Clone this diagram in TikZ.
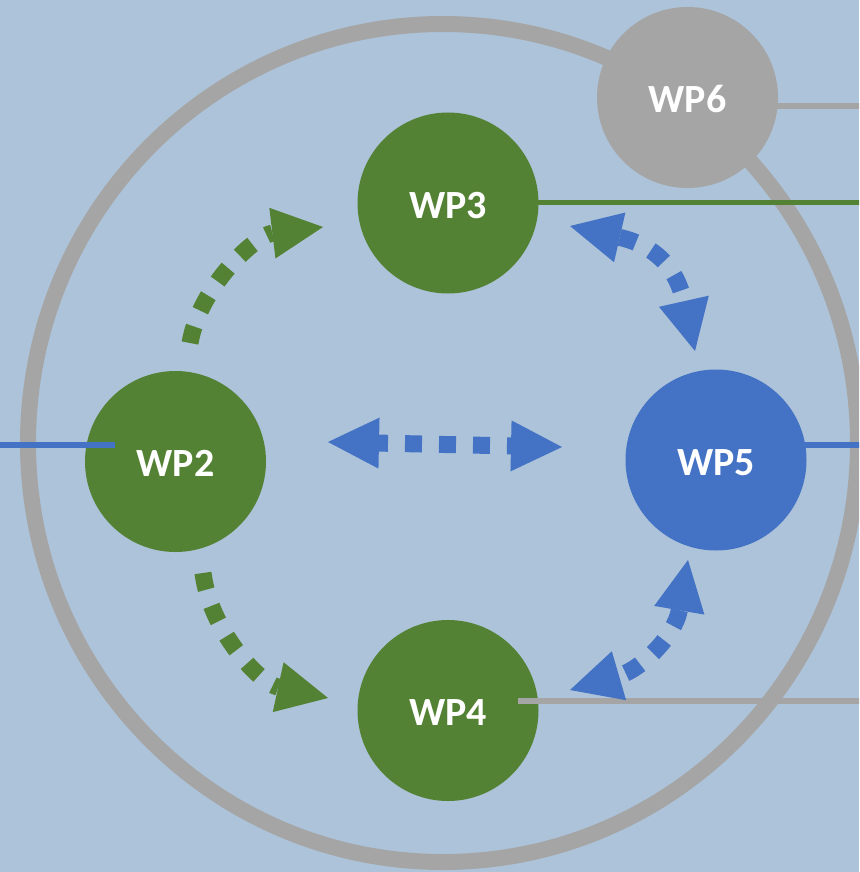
\documentclass[tikz,border=0pt]{standalone}
\usepackage{fontspec}
\setmainfont{Carlito}
\usetikzlibrary{arrows.meta}
\definecolor{bg}{RGB}{173,195,217}
\definecolor{wpgreen}{RGB}{84,130,53}
\definecolor{wpblue}{RGB}{68,114,196}
\definecolor{wpgray}{RGB}{165,165,165}
\begin{document}
\begin{tikzpicture}[x=1pt,y=-1pt,
  wp/.style={circle,minimum size=181pt,inner sep=0pt,text=white,
    text height=30pt,text depth=0pt,
    font=\bfseries\fontsize{40}{48}\selectfont},
  link/.style={line width=6pt},
  flow/.style={line width=17pt,dash pattern=on 17pt off 17pt,line cap=butt},
  >={Triangle[length=51pt,width=51pt,line width=0pt]}]
\useasboundingbox (0,0) rectangle (859,872);
\clip (0,0) rectangle (859,872);
\fill[bg] (0,0) rectangle (859,872);
% outer ring
\draw[wpgray,line width=16pt] (443,443) ellipse [x radius=415pt, y radius=419pt];
% end points of outgoing lines
\coordinate (e6) at (862,106);
\coordinate (e3) at (862,202.5);
\coordinate (e5) at (862,445);
\coordinate (e2a) at (-3,445);
\coordinate (e2b) at (115,445);
\coordinate (e4a) at (518,701);
\coordinate (e4b) at (862,701);
\coordinate (c6) at (687.5,106);
\coordinate (c3) at (448,202.5);
\coordinate (c5) at (716,445);
\draw[link,wpgray]  (c6) -- (e6);
\draw[link,wpgreen,line width=5pt] (c3) -- (e3);
\draw[link,wpblue]  (c5) -- (e5);
% work packages
\node[wp,fill=wpgray]  (wp6) at (687.5,97.5) {WP6};
\node[wp,fill=wpgreen] (wp3) at (448,203) {WP3};
\node[wp,fill=wpgreen] (wp2) at (175.5,461.5) {WP2};
\node[wp,fill=wpblue]  (wp5) at (716,460) {WP5};
\node[wp,fill=wpgreen] (wp4) at (448,710.5) {WP4};
\draw[link,wpblue]  (e2a) -- (e2b);
\draw[link,wpgray]  (e4a) -- (e4b);
% flows
\coordinate (a1s) at (190,343);  \coordinate (a1e) at (323,227);
\coordinate (a2s) at (203,573);  \coordinate (a2e) at (328,698);
\coordinate (a3s) at (570,226);  \coordinate (a3e) at (695,351);
\coordinate (a4s) at (688,560);  \coordinate (a4e) at (570,690);
\coordinate (a5s) at (328,442);  \coordinate (a5e) at (562,447);
\draw[flow,wpgreen,->] (a1s) .. controls (200,285) and (257,235) .. (a1e);
\draw[flow,wpgreen,->] (a2s) .. controls (210,630) and (259,683) .. (a2e);
\draw[flow,wpblue,<->] (a3s) .. controls (653,245) and (676,266) .. (a3e);
\draw[flow,wpblue,<->] (a4s) .. controls (675,635) and (642,669) .. (a4e);
\draw[flow,wpblue,<->,dash phase=8pt] (a5s) -- (a5e);
\end{tikzpicture}
\end{document}
